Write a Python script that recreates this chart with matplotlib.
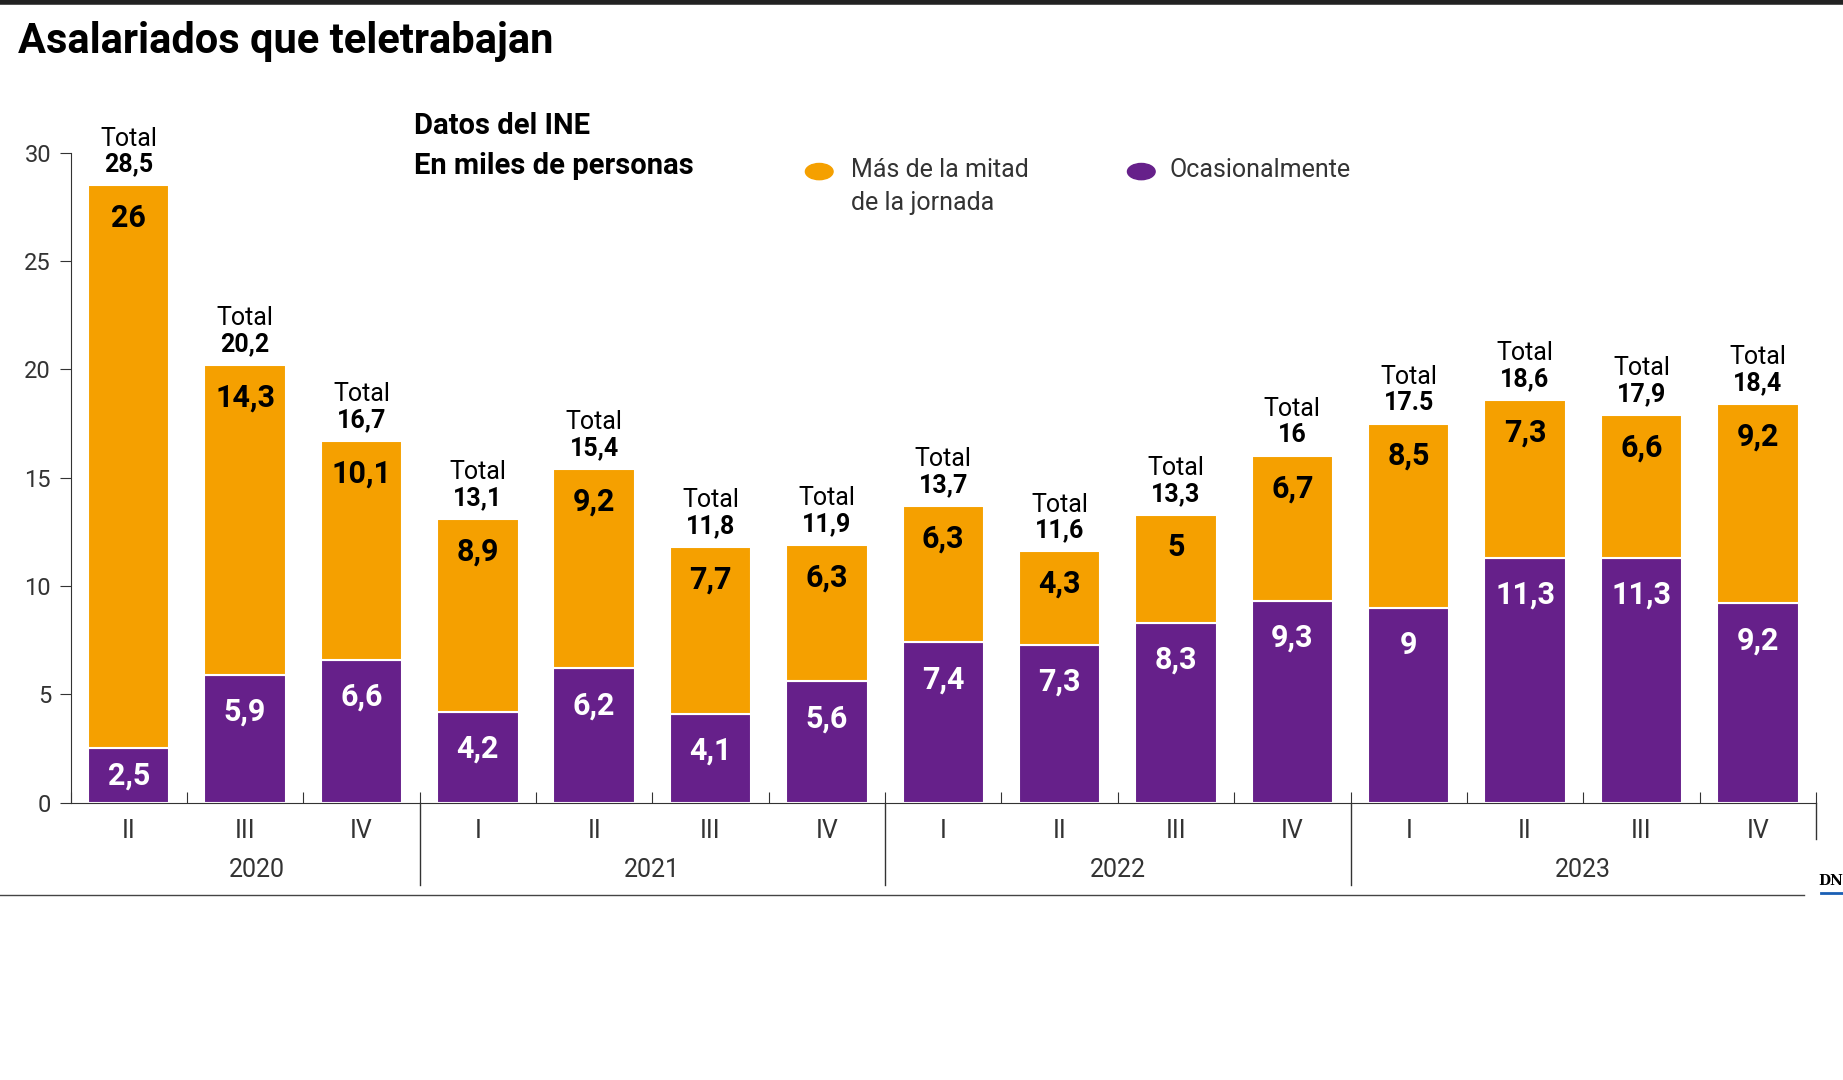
import matplotlib
matplotlib.use("Agg")
import matplotlib.pyplot as plt
from matplotlib.lines import Line2D
from matplotlib.patches import Circle

quarters = ["II","III","IV","I","II","III","IV","I","II","III","IV","I","II","III","IV"]
years = ["2020","2021","2022","2023"]
year_counts = [3,4,4,4]
ocasional = [2.5,5.9,6.6,4.2,6.2,4.1,5.6,7.4,7.3,8.3,9.3,9,11.3,11.3,9.2]
mitad = [26,14.3,10.1,8.9,9.2,7.7,6.3,6.3,4.3,5,6.7,8.5,7.3,6.6,9.2]
totals = ["28,5","20,2","16,7","13,1","15,4","11,8","11,9","13,7","11,6","13,3","16","17.5","18,6","17,9","18,4"]
ocas_lbl = ["2,5","5,9","6,6","4,2","6,2","4,1","5,6","7,4","7,3","8,3","9,3","9","11,3","11,3","9,2"]
mitad_lbl = ["26","14,3","10,1","8,9","9,2","7,7","6,3","6,3","4,3","5","6,7","8,5","7,3","6,6","9,2"]

ORANGE = "#F5A000"
PURPLE = "#66208A"
plt.rcParams['font.family'] = ['Roboto', 'DejaVu Sans']

fig = plt.figure(figsize=(18.43, 10.8), dpi=100)
W, H = 1568, 919
def fx(p): return p / W
def fy(p): return 1 - p / H

ax = fig.add_axes([fx(60), fy(683), fx(1545) - fx(60), fy(130) - fy(683)])
x = list(range(len(quarters)))
ax.bar(x, ocasional, width=0.7, color=PURPLE, edgecolor="white", linewidth=1.5)
ax.bar(x, mitad, width=0.7, bottom=ocasional, color=ORANGE, edgecolor="white", linewidth=1.5)
ax.set_xlim(-0.5, 14.5)
ax.set_ylim(0, 30)
for s in ["top", "right"]:
    ax.spines[s].set_visible(False)
ax.spines["left"].set_color("#333")
ax.spines["bottom"].set_color("#333")
ax.set_yticks([0,5,10,15,20,25,30])
ax.tick_params(axis="y", labelsize=17, colors="#333", length=8, pad=6)
ax.set_xticks([i + 0.5 for i in range(-1, 15)])
ax.set_xticklabels([])
ax.tick_params(axis="x", length=8, direction="in", colors="#333")

for i in x:
    t = ocasional[i] + mitad[i]
    yo = max(ocasional[i] - 1.7, ocasional[i] / 2)
    ym = max(t - 1.5, ocasional[i] + mitad[i] / 2)
    ax.text(i, yo, ocas_lbl[i], ha="center", va="center", color="white", fontsize=22, fontweight="bold")
    ax.text(i, ym, mitad_lbl[i], ha="center", va="center", color="black", fontsize=22, fontweight="bold")
    ax.text(i, t + 1.6, "Total", ha="center", va="bottom", fontsize=18)
    ax.text(i, t + 0.4, totals[i], ha="center", va="bottom", fontsize=18, fontweight="bold")
    ax.text(i, -1.3, quarters[i], ha="center", va="center", fontsize=18, color="#333")

start = 0
for y, c in zip(years, year_counts):
    mid = start + (c - 1) / 2
    if y == "2020":
        mid = 1.1
    ax.text(mid, -3.1, y, ha="center", va="center", fontsize=18, color="#333")
    if start > 0:
        ax.add_line(Line2D([start - 0.5, start - 0.5], [0, -3.8], color="#333", lw=1, clip_on=False))
    start += c
ax.add_line(Line2D([14.5, 14.5], [0, -1.7], color="#333", lw=1, clip_on=False))

fig.add_artist(Line2D([0, 1], [fy(1.5), fy(1.5)], color="#222", lw=4))
fig.add_artist(Line2D([0, fx(1535)], [fy(762), fy(762)], color="#444", lw=1))
fig.add_artist(Line2D([fx(1549), 1], [fy(760), fy(760)], color="#1a5fb4", lw=2))
fig.text(fx(15), fy(35), "Asalariados que teletrabajan", fontsize=30, fontweight="bold", va="center")
fig.text(fx(352), fy(107), "Datos del INE", fontsize=21, fontweight="bold", va="center")
fig.text(fx(352), fy(141), "En miles de personas", fontsize=21, fontweight="bold", va="center")
fig.add_artist(Circle((fx(697), fy(146)), 0.0075, transform=fig.transFigure, color=ORANGE))
fig.add_artist(Circle((fx(971), fy(146)), 0.0075, transform=fig.transFigure, color=PURPLE))
fig.text(fx(724), fy(145), "Más de la mitad", fontsize=18, va="center", color="#333")
fig.text(fx(724), fy(173), "de la jornada", fontsize=18, va="center", color="#333")
fig.text(fx(995), fy(145), "Ocasionalmente", fontsize=18, va="center", color="#333")
fig.text(fx(1547), fy(750), "DN", fontsize=10, fontweight="bold", va="center", family="DejaVu Serif")

fig.savefig("out.png", dpi=100, facecolor="white")
